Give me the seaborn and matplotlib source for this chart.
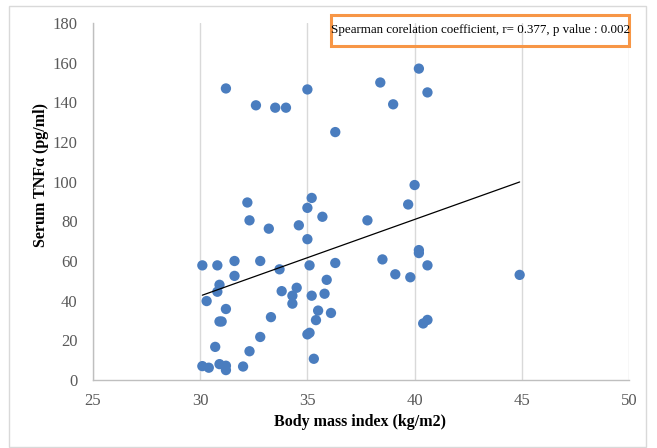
import matplotlib
matplotlib.use("Agg")
import matplotlib.pyplot as plt
import seaborn as sns
import numpy as np
import pandas as pd
from matplotlib.patches import Rectangle

bmi = [31.2, 32.6, 33.5, 34.0, 35.0, 36.3, 38.4, 40.2, 39.0, 40.6,
       32.2, 35.2, 35.0, 32.3, 33.2, 34.6, 35.7, 37.8, 35.0, 40.0, 39.7,
       40.2, 40.2, 38.5, 40.6, 39.1, 39.8, 44.9, 40.6, 40.4,
       30.1, 30.8, 31.6, 32.8, 35.1, 36.3, 33.7, 31.6, 35.9, 30.9,
       30.8, 34.5, 33.8, 34.3, 35.2, 35.8, 30.3, 34.3, 31.2, 35.5,
       36.1, 35.4, 33.3, 30.9, 31.0, 32.8, 35.1, 35.0, 32.3, 30.7,
       35.3, 30.1, 30.4, 30.9, 31.2, 31.2, 32.0]
tnf = [147.0, 138.5, 137.3, 137.3, 146.5, 125.0, 150.0, 157.0, 139.0, 145.0,
       89.5, 91.8, 86.8, 80.5, 76.3, 78.0, 82.3, 80.5, 71.0, 98.3, 88.5,
       65.5, 64.0, 60.8, 57.8, 53.3, 51.8, 53.0, 30.3, 28.5,
       57.8, 57.8, 60.0, 60.0, 57.8, 59.0, 55.8, 52.5, 50.5, 48.0,
       44.5, 46.5, 44.8, 42.5, 42.5, 43.5, 39.8, 38.5, 35.8, 35.0,
       33.8, 30.2, 31.7, 29.5, 29.5, 21.7, 23.8, 23.0, 14.5, 16.7,
       10.7, 7.0, 6.2, 8.0, 7.2, 5.0, 6.8]

x_ticks = [25, 30, 35, 40, 45, 50]
y_ticks = [0, 20, 40, 60, 80, 100, 120, 140, 160, 180]
x_label = "Body mass index (kg/m2)"
y_label = "Serum TNF\u03b1 (pg/ml)"
note = "Spearman corelation coefficient, r= 0.377, p value : 0.002"

df = pd.DataFrame({"bmi": bmi, "tnf": tnf})

sns.set_theme(style="white")
plt.rcParams["font.family"] = ["Liberation Serif", "DejaVu Serif"]

fig = plt.figure(figsize=(6.57, 4.48), dpi=100)
ax = fig.add_axes([93/657, 1-380/448, (629-93)/657, (380-23)/448])

# outer chart border
fig.patches.append(Rectangle((9/657, 1/448), (646-9)/657, (447-6)/448,
                             transform=fig.transFigure, fill=False,
                             edgecolor="#d9d9d9", linewidth=1.0, zorder=0))

sns.regplot(data=df, x="bmi", y="tnf", ax=ax, ci=None, truncate=True,
            scatter_kws=dict(s=55, color="#4a7dbf", edgecolor="none", alpha=1, zorder=3),
            line_kws=dict(color="black", linewidth=0.9, zorder=4))

ax.set_xlim(25, 50)
ax.set_ylim(0, 180)
ax.set_xticks(x_ticks)
ax.set_yticks(y_ticks)
ax.tick_params(axis="both", length=0, labelsize=12, labelcolor="#595959")
ax.tick_params(axis="y", pad=11)
ax.tick_params(axis="x", pad=9)
ax.grid(axis="x", color="#d9d9d9", linewidth=1.0)
ax.grid(axis="y", visible=False)
ax.set_axisbelow(True)
for s in ["top", "right"]:
    ax.spines[s].set_visible(False)
for s in ["left", "bottom"]:
    ax.spines[s].set_color("#bfbfbf")
    ax.spines[s].set_linewidth(1.0)

ax.set_xlabel(x_label, fontsize=11.5, fontweight="bold", color="black")
ax.set_ylabel(y_label, fontsize=11.5, fontweight="bold", color="black")
ax.xaxis.label.set_va("center")
ax.yaxis.label.set_va("center")
ax.xaxis.set_label_coords((360-93)/536, (380-422)/357)
ax.yaxis.set_label_coords((41-93)/536, (380-175)/357)

# annotation box
ax.add_patch(Rectangle(((331-93)/536, (380-46)/357), (629-331)/536, 31/357,
                       transform=ax.transAxes, fill=False, edgecolor="#f79646",
                       linewidth=2.2, clip_on=False, zorder=5))
ax.text((331-93)/536, (380-30)/357, note, transform=ax.transAxes,
        fontsize=9.4, color="black", ha="left", va="center", zorder=6)

fig.savefig("out.png", dpi=100)
